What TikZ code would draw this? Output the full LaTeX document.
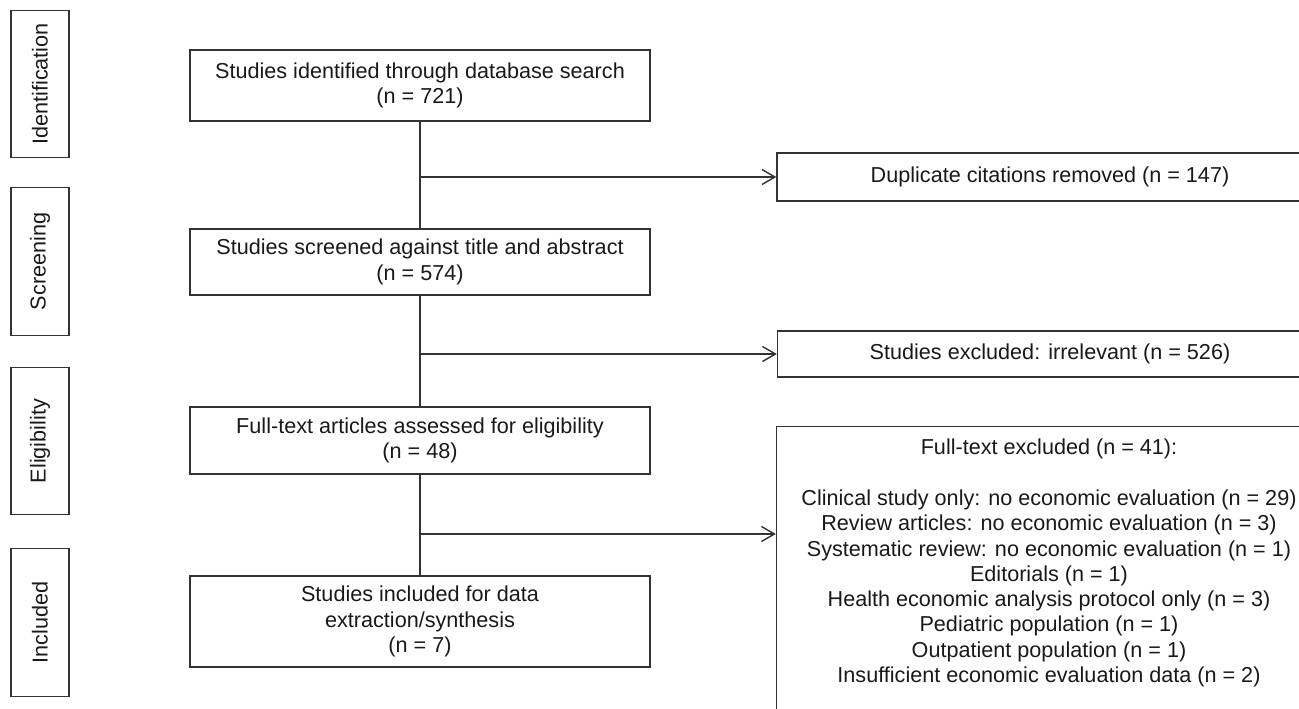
\documentclass[tikz,border=0pt]{standalone}
\usepackage{fontspec}
\setmainfont{Liberation Sans}
\usetikzlibrary{arrows.meta}

\begin{document}
\begin{tikzpicture}[x=0.02cm,y=-0.02cm,
  txt/.style={text=black!90, align=center, font=\fontsize{12.3}{14.4}\selectfont},
  box/.style={txt, draw=black!80, line width=0.8pt, minimum width=9.2cm},
  phase/.style={txt, draw=black!80, line width=0.8pt, rotate=90, minimum width=2.95cm, minimum height=1.16cm},
  link/.style={draw=black!80, line width=0.8pt},
  arr/.style={link, -{Straight Barb[length=2.6mm,width=3mm]}}]
\path[use as bounding box, clip] (0,0) rectangle (1299,709);
\node[phase] (ident) at (40,84) {Identification};
\node[phase] (screen) at (40,261.5) {Screening};
\node[phase] (elig) at (40,441) {Eligibility};
\node[phase] (incl) at (40,622.5) {Included};
\node[box, minimum height=1.42cm] (found) at (420,85.5) {Studies identified through database search\\(n = 721)};
\node[box, minimum height=1.32cm] (screened) at (420,262) {Studies screened against title and abstract\\(n = 574)};
\node[box, minimum height=1.34cm] (assessed) at (420,440.5) {Full-text articles assessed for eligibility\\(n = 48)};
\node[box, minimum height=1.82cm] (included) at (420,621.5) {Studies included for data\\extraction/synthesis\\(n = 7)};
\node[box, minimum width=10.92cm, minimum height=0.96cm] (dupl) at (1050,177) {Duplicate citations removed (n = 147)};
\node[box, minimum width=10.9cm, minimum height=0.92cm] (irrel) at (1050,354) {Studies excluded: irrelevant (n = 526)};
\node[box, minimum width=10.9cm, minimum height=6cm, anchor=north] (ftout) at (1049,426) {};
\node[txt, anchor=north, yshift=-4pt] (ftlist) at (ftout.north) {Full-text excluded (n = 41):\\[14.4pt]
Clinical study only: no economic evaluation (n = 29)\\
Review articles: no economic evaluation (n = 3)\\
Systematic review: no economic evaluation (n = 1)\\
Editorials (n = 1)\\
Health economic analysis protocol only (n = 3)\\
Pediatric population (n = 1)\\
Outpatient population (n = 1)\\
Insufficient economic evaluation data (n = 2)};
\draw[link] (found) -- (screened);
\draw[link] (screened) -- (assessed);
\draw[link] (assessed) -- (included);
\draw[arr] (found.south |- dupl.west) -- (dupl.west);
\draw[arr] (screened.south |- irrel.west) -- (irrel.west);
\coordinate (split3) at (420,534);
\draw[arr] (split3) -- (split3 -| ftout.west);
\end{tikzpicture}
\end{document}
